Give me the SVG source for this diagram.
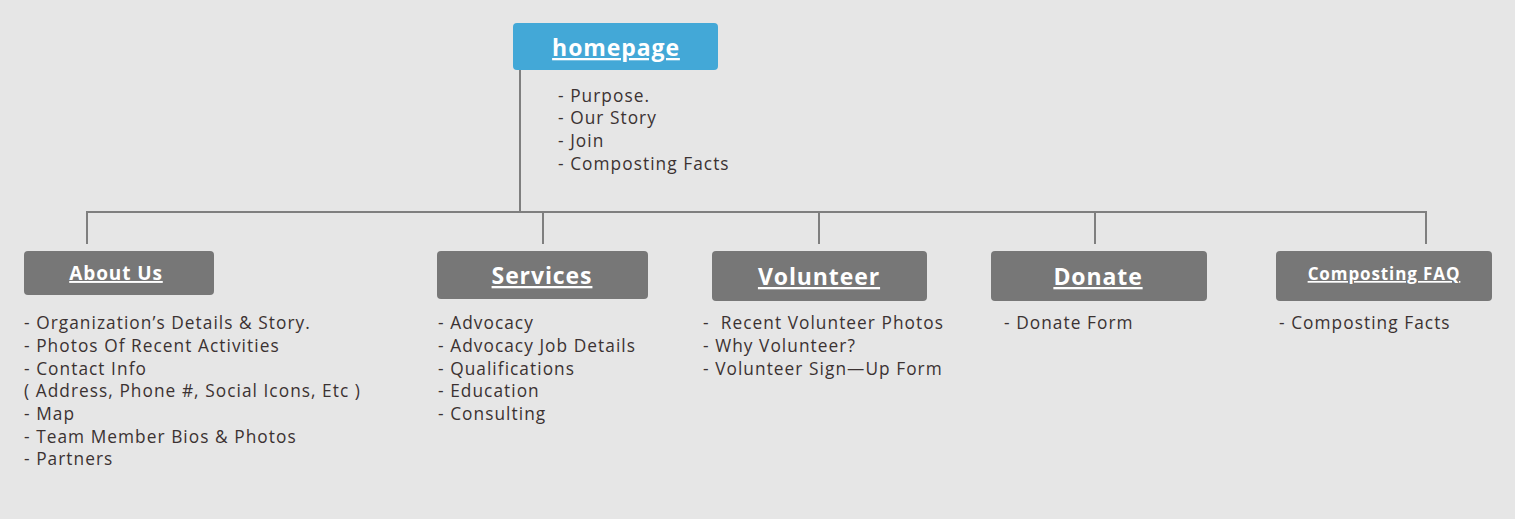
<svg xmlns="http://www.w3.org/2000/svg" width="1515" height="519" viewBox="0 0 1515 519">
  <style>
    .box { fill: #777777; }
    .home { fill: #43a8d7; }
    .title { font-family: "Open Sans", "Liberation Sans", sans-serif; font-weight: 700; fill: #ffffff; text-anchor: middle; text-decoration: underline; letter-spacing: 0.9px; }
    .item { font-family: "Open Sans", "Liberation Sans", sans-serif; font-size: 17.3px; letter-spacing: 1.05px; fill: #3b3232; }
    .wire { stroke: #7f7f7f; stroke-width: 2; fill: none; }
  </style>
  <rect width="1515" height="519" fill="#e6e6e6"/>

  <g id="connectors">
    <path class="wire" d="M520 70 V212"/>
    <path class="wire" d="M87 244 V212 H1426 V244"/>
    <path class="wire" d="M543 212 V244"/>
    <path class="wire" d="M819 212 V244"/>
    <path class="wire" d="M1095 212 V244"/>
  </g>

  <g id="homepage">
    <rect class="home" x="513" y="23" width="205" height="47" rx="4"/>
    <text class="title" x="616" y="56" font-size="23">homepage</text>
    <text class="item" x="558" y="102">- Purpose.</text>
    <text class="item" x="558" y="124">- Our Story</text>
    <text class="item" x="558" y="147">- Join</text>
    <text class="item" x="558" y="170">- Composting Facts</text>
  </g>

  <g id="about-us">
    <rect class="box" x="24" y="251" width="190" height="44" rx="4"/>
    <text class="title" x="116" y="280" font-size="19">About Us</text>
    <text class="item" x="24" y="329">- Organization’s Details &amp; Story.</text>
    <text class="item" x="24" y="352">- Photos Of Recent Activities</text>
    <text class="item" x="24" y="375">- Contact Info</text>
    <text class="item" x="24" y="397">( Address, Phone #, Social Icons, Etc )</text>
    <text class="item" x="24" y="420">- Map</text>
    <text class="item" x="24" y="443">- Team Member Bios &amp; Photos</text>
    <text class="item" x="24" y="465">- Partners</text>
  </g>

  <g id="services">
    <rect class="box" x="437" y="251" width="211" height="48" rx="4"/>
    <text class="title" x="542" y="284" font-size="23">Services</text>
    <text class="item" x="438" y="329">- Advocacy</text>
    <text class="item" x="438" y="352">- Advocacy Job Details</text>
    <text class="item" x="438" y="375">- Qualifications</text>
    <text class="item" x="438" y="397">- Education</text>
    <text class="item" x="438" y="420">- Consulting</text>
  </g>

  <g id="volunteer">
    <rect class="box" x="712" y="251" width="215" height="50" rx="4"/>
    <text class="title" x="819" y="285" font-size="23">Volunteer</text>
    <text class="item" x="703" y="329" xml:space="preserve">-  Recent Volunteer Photos</text>
    <text class="item" x="703" y="352">- Why Volunteer?</text>
    <text class="item" x="703" y="375">- Volunteer Sign—Up Form</text>
  </g>

  <g id="donate">
    <rect class="box" x="991" y="251" width="216" height="50" rx="4"/>
    <text class="title" x="1098" y="285" font-size="23">Donate</text>
    <text class="item" x="1004" y="329">- Donate Form</text>
  </g>

  <g id="composting-faq">
    <rect class="box" x="1276" y="251" width="216" height="50" rx="4"/>
    <text class="title" x="1384" y="280" font-size="17">Composting FAQ</text>
    <text class="item" x="1279" y="329">- Composting Facts</text>
  </g>
</svg>
